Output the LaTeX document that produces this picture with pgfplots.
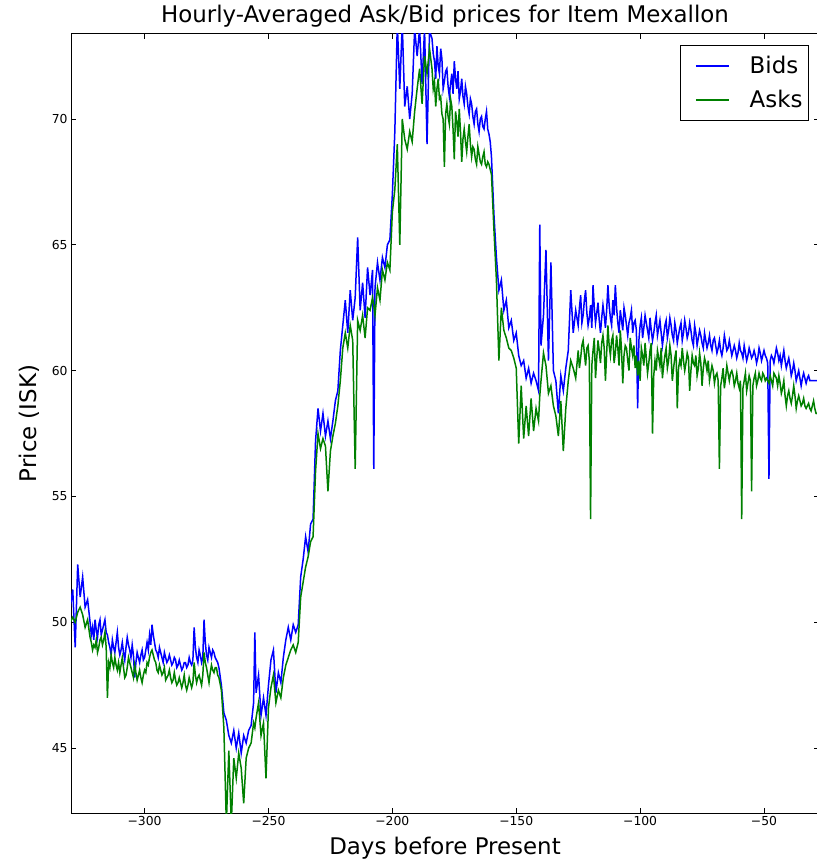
\documentclass[border=0pt]{standalone}
\usepackage{fontspec}
\setmainfont{DejaVu Sans}
\usepackage{pgfplots}
\pgfplotsset{compat=1.18}
\usepackage{pgfplotstable}
\pgfplotstableread{
x b a
-330 50.6 50.0
-329 51.3 50.2
-328 49.0 50.0
-327 52.3 50.4
-326 51.0 50.6
-325 51.8 50.3
-324 50.6 49.8
-323 50.9 50.1
-322 50.0 49.4
-321.5 49.5 49.2
-321 49.8 48.9
-320.5 49.3 49.1
-320 50.1 49.0
-319.5 49.7 49.3
-319 49.4 48.8
-318.5 49.9 49.0
-318 50.1 49.3
-317.5 49.5 49.4
-317 49.7 49.1
-316.5 49.9 49.3
-316 50.1 49.6
-315.5 49.6 49.0
-315 49.5 47.0
-314.5 49.2 48.4
-314 49.0 48.2
-313.5 48.7 48.7
-313 49.3 48.4
-312.5 49.0 48.2
-312 48.8 48.6
-311.5 49.2 48.3
-311 49.6 48.1
-310.5 49.0 48.4
-310 48.7 48.0
-309.5 48.9 48.3
-309 49.2 48.6
-308.5 48.8 48.2
-308 48.5 47.8
-307.5 49.0 47.9
-307 49.4 48.2
-306.5 49.1 48.6
-306 48.9 48.4
-305.5 48.6 48.2
-305 49.1 48.0
-304.5 48.7 47.8
-304 47.8 48.3
-303.5 48.4 48.0
-303 48.8 47.7
-302.5 48.6 47.9
-302 48.4 48.1
-301.5 48.7 47.8
-301 48.9 47.6
-300.5 48.5 47.9
-300 48.6 48.1
-299.5 48.9 48.0
-299 49.2 48.4
-298.5 48.9 48.3
-298 49.5 48.6
-297.5 49.1 48.8
-297 49.9 48.9
-296.5 49.5 48.7
-296 49.2 48.5
-295.5 48.9 48.4
-295 48.8 48.1
-294.5 48.6 48.0
-294 49.0 48.3
-293.5 48.8 48.1
-293 48.6 47.9
-292.5 48.4 48.0
-292 48.8 48.2
-291.5 48.6 47.7
-291 48.4 47.8
-290.5 48.5 47.9
-290 48.7 48.1
-289.5 48.5 47.8
-289 48.3 47.6
-288.5 48.4 47.7
-288 48.6 48.0
-287.5 48.5 47.7
-287 48.2 47.5
-286.5 48.3 47.6
-286 48.5 47.8
-285.5 48.3 47.6
-285 48.1 47.4
-284.5 48.2 47.6
-284 48.4 47.9
-283.5 48.4 47.5
-283 48.2 47.3
-282.5 48.3 47.5
-282 48.6 47.8
-281.5 48.4 47.6
-281 48.3 47.4
-280.5 48.5 47.6
-280 49.8 48.4
-279.5 49.0 47.9
-279 48.6 47.6
-278.5 48.4 47.8
-278 48.9 47.9
-277.5 48.7 47.7
-277 48.4 47.5
-276.5 48.6 47.9
-276 50.1 48.8
-275.5 49.2 48.4
-275 48.7 48.2
-274.5 48.5 47.9
-274 49.0 47.6
-273.5 48.8 48.0
-273 48.6 48.3
-272.5 48.9 48.1
-272 48.8 48.0
-271.5 48.6 48.2
-271 48.5 48.2
-270.5 48.4 47.9
-270 48.2 47.8
-269 47.5 47.3
-268 46.4 45.8
-267 46.1 42.0
-266 45.5 44.9
-265 45.2 42.0
-264 45.7 44.6
-263 45.0 43.8
-262 45.6 44.8
-261 44.8 44.2
-260 45.5 42.8
-259 45.2 44.6
-258 45.7 45.0
-257 45.9 45.2
-256 46.8 46.0
-255.5 49.6 45.8
-255 47.2 46.2
-254 47.9 46.8
-253 46.3 45.5
-252 47.0 46.0
-251 46.3 43.8
-250 47.5 46.6
-249 48.5 47.4
-248 48.9 47.9
-247 47.2 46.8
-246 48.0 47.3
-245 47.6 47.0
-244 48.6 47.8
-243 49.3 48.3
-242 49.8 48.6
-241 49.3 48.9
-240 49.9 49.1
-239 49.6 48.8
-238 49.9 49.2
-237 51.8 51.0
-236 52.5 51.6
-235 53.4 52.2
-234 52.8 52.6
-233 53.9 53.2
-232 54.1 53.4
-231 57.2 56.0
-230 58.5 57.5
-229 57.6 56.9
-228 58.3 57.3
-227 57.4 57.0
-226 58.0 55.2
-225 57.3 56.8
-224 58.0 57.4
-223 58.8 57.9
-222 59.2 58.6
-221 60.8 59.6
-220 61.8 60.9
-219 62.8 61.5
-218 61.5 60.9
-217 63.2 61.8
-216 62.0 61.2
-215 62.9 56.1
-214 65.3 62.0
-213 62.4 61.6
-212 63.5 62.2
-211 62.1 61.3
-210 64.1 62.5
-209 63.0 62.4
-208 64.0 62.9
-207.5 56.1 62.6
-207 63.3 62.2
-206 64.3 63.3
-205 63.6 62.8
-204 64.5 64.0
-203 64.1 63.6
-202 65.0 64.3
-201 65.2 64.0
-200 67.0 66.3
-199 69.5 67.2
-198 73.8 69.0
-197 71.2 65.0
-196 73.8 70.0
-195 70.5 69.2
-194 71.3 68.8
-193 70.0 69.5
-192 71.0 69.1
-191 73.6 70.3
-190 72.5 71.2
-189 73.6 72.0
-188 71.4 70.6
-187 73.6 72.5
-186 69.0 71.8
-185 73.5 72.8
-184 73.2 72.0
-183.5 72.6 71.2
-183 72.3 71.5
-182.5 71.6 70.5
-182 72.9 71.2
-181.5 72.1 71.6
-181 71.8 70.8
-180.5 72.8 70.9
-180 72.4 70.2
-179.5 71.2 70.0
-179 71.5 68.1
-178.5 71.9 70.2
-178 72.0 70.6
-177.5 71.3 70.1
-177 70.9 69.8
-176.5 71.4 70.8
-176 71.8 70.5
-175.5 71.0 69.6
-175 72.3 68.4
-174.5 71.6 70.3
-174 71.2 69.9
-173.5 71.9 69.3
-173 70.8 70.4
-172.5 71.1 69.5
-172 71.6 68.3
-171.5 70.9 69.2
-171 70.6 69.6
-170.5 71.3 69.1
-170 71.0 68.7
-169.5 70.5 69.3
-169 70.2 69.8
-168.5 70.8 69.0
-168 70.6 68.5
-167.5 70.1 68.9
-167 69.8 68.8
-166.5 70.3 68.4
-166 70.4 68.2
-165.5 69.8 68.9
-165 69.5 68.6
-164.5 70.0 68.3
-164 70.1 68.2
-163.5 69.7 68.5
-163 69.6 68.7
-162.5 70.0 68.2
-162 70.3 68.1
-161.5 69.6 68.3
-161 69.4 68.2
-160.5 69.1 68.0
-160 68.5 67.8
-159 66.2 65.6
-158 64.5 63.6
-157 63.2 60.4
-156 63.6 62.5
-155 62.4 61.6
-154 62.8 61.3
-153 61.7 60.9
-152 62.0 60.8
-151 61.2 60.5
-150 61.5 60.1
-149 60.6 57.1
-148 60.2 59.4
-147 60.4 57.3
-146 59.7 58.6
-145 60.1 57.4
-144 59.5 58.9
-143 59.9 57.6
-142 59.6 58.5
-141 59.2 58.0
-140.5 65.8 59.0
-140 61.0 59.6
-139 62.2 60.7
-138 64.8 60.2
-137 60.4 59.1
-136 64.3 59.4
-135 60.0 58.6
-134 59.6 58.2
-133 58.3 57.4
-132 59.8 58.8
-131 59.2 56.8
-130 60.1 58.5
-129 60.8 59.6
-128 63.2 60.4
-127 61.5 60.1
-126 62.4 59.7
-125 61.8 60.8
-124.5 62.5 60.1
-124 63.0 60.5
-123.5 61.9 61.0
-123 62.2 61.2
-122.5 62.8 60.7
-122 63.2 60.2
-121.5 62.3 60.9
-121 61.8 61.0
-120.5 62.1 60.4
-120 62.6 54.1
-119.5 61.7 60.2
-119 63.4 60.8
-118.5 62.5 61.3
-118 61.9 59.7
-117.5 62.3 60.5
-117 62.7 61.2
-116.5 62.0 60.8
-116 61.5 60.3
-115.5 62.1 61.1
-115 62.6 61.4
-114.5 62.2 60.9
-114 61.7 59.6
-113.5 62.4 60.7
-113 63.4 61.8
-112.5 62.6 61.0
-112 62.1 60.6
-111.5 61.8 61.2
-111 62.8 61.4
-110.5 62.2 60.3
-110 63.4 60.7
-109.5 62.5 61.4
-109 61.9 60.9
-108.5 61.5 60.2
-108 62.4 61.6
-107.5 62.0 60.8
-107 61.6 59.5
-106.5 62.5 60.6
-106 62.2 61.0
-105.5 61.8 60.9
-105 61.4 60.4
-104.5 61.9 60.0
-104 62.1 61.3
-103.5 62.4 60.9
-103 61.5 60.6
-102.5 61.9 61.0
-102 62.0 60.1
-101.5 61.6 60.6
-101 58.5 59.8
-100.5 61.2 60.4
-100 61.8 59.6
-99.5 62.1 60.9
-99 61.3 60.6
-98.5 61.7 60.2
-98 62.2 61.1
-97.5 61.9 60.5
-97 61.6 59.9
-96.5 61.3 60.3
-96 62.1 60.8
-95.5 61.6 61.1
-95 61.2 57.5
-94.5 61.5 59.8
-94 61.9 60.4
-93.5 62.2 60.0
-93 61.4 60.8
-92.5 61.7 60.5
-92 62.0 60.2
-91.5 61.5 60.9
-91 61.0 59.7
-90.5 61.4 60.2
-90 61.8 60.6
-89.5 62.0 60.9
-89 61.3 60.1
-88.5 61.6 60.4
-88 62.1 61.0
-87.5 61.8 60.6
-87 61.4 59.6
-86.5 61.2 60.1
-86 61.9 60.5
-85.5 61.6 60.8
-85 61.1 58.5
-84.5 61.4 60.1
-84 61.7 60.4
-83.5 61.9 60.2
-83 61.2 60.9
-82.5 61.5 60.4
-82 62.0 60.0
-81.5 61.7 60.3
-81 61.3 60.7
-80.5 61.5 60.5
-80 61.9 59.2
-79.5 61.6 60.0
-79 61.2 60.6
-78.5 61.0 60.3
-78 61.8 60.2
-77.5 61.5 60.6
-77 61.0 59.8
-76.5 61.3 60.1
-76 61.6 60.7
-75.5 61.4 60.3
-75 61.1 59.4
-74.5 60.9 60.1
-74 61.5 60.5
-73.5 61.2 60.3
-73 60.9 60.0
-72.5 61.1 60.4
-72 61.4 59.6
-71.5 61.0 59.9
-71 60.8 60.2
-70.5 61.2 60.0
-70 61.3 59.5
-69.5 61.0 59.8
-69 60.7 59.9
-68.5 60.9 59.6
-68 61.2 56.1
-67.5 60.8 59.4
-67 60.6 59.7
-66.5 60.9 60.1
-66 61.4 59.3
-65.5 61.1 59.7
-65 60.8 60.2
-64.5 60.9 59.9
-64 61.2 59.6
-63.5 60.9 59.9
-63 60.6 60.0
-62.5 60.8 59.8
-62 61.0 59.4
-61.5 60.8 59.6
-61 60.5 59.9
-60.5 60.7 59.5
-60 61.1 59.3
-59.5 60.8 59.6
-59 60.7 54.1
-58.5 60.5 59.3
-58 61.0 59.6
-57.5 60.7 59.9
-57 60.4 59.2
-56.5 60.6 59.5
-56 60.9 59.8
-55.5 60.7 59.6
-55 60.5 55.2
-54.5 60.6 59.4
-54 60.8 59.7
-53.5 60.6 59.9
-53 60.3 59.4
-52.5 60.5 59.6
-52 60.9 59.9
-51.5 60.7 59.7
-51 60.4 59.6
-50.5 60.6 59.9
-50 60.8 59.8
-49.5 60.6 59.6
-49 60.5 59.7
-48.5 60.3 59.6
-48 55.7 59.5
-47.5 60.4 59.8
-47 60.6 59.6
-46.5 60.5 59.4
-46 60.3 59.9
-45.5 60.6 59.8
-45 60.9 59.7
-44.5 60.7 59.4
-44 60.4 59.8
-43.5 60.6 59.5
-43 60.2 59.1
-42.5 60.5 59.3
-42 60.8 59.6
-41.5 60.4 59.0
-41 60.1 58.6
-40.5 60.3 59.0
-40 60.5 59.2
-39.5 60.2 58.9
-39 59.8 58.7
-38.5 60.0 59.0
-38 60.3 59.4
-37.5 60.0 59.0
-37 59.6 58.5
-36.5 59.8 58.8
-36 60.0 59.0
-35.5 59.7 58.8
-35 59.4 58.6
-34.5 59.7 58.7
-34 59.9 58.9
-33.5 59.7 58.6
-33 59.5 58.5
-32.5 59.7 58.6
-32 59.8 58.7
-31.5 59.6 58.5
-31 59.6 58.4
-30.5 59.6 58.6
-30 59.6 58.8
-29.5 59.6 58.5
-29 59.6 58.3
-28.5 59.6 58.3
-28 59.6 58.2
}\pricedata
\definecolor{mplgreen}{rgb}{0,0.5,0}
\begin{document}
\begin{tikzpicture}
\begin{axis}[
  at={(71bp,47bp)}, anchor=south west,
  scale only axis, width=748bp, height=779bp,
  xmin=-329.7, xmax=-27.8, ymin=42.42, ymax=73.38,
  xtick={-300,-250,-200,-150,-100,-50},
  xticklabels={−300,−250,−200,−150,−100,−50},
  ytick={45,50,55,60,65,70},
  yticklabels={45,50,55,60,65,70},
  tick label style={font=\fontsize{12.4}{14}\selectfont},
  major tick length=5bp,
  tick style={black, line width=0.8bp},
  axis line style={black, line width=1bp},
  title={Hourly-Averaged Ask/Bid prices for Item Mexallon},
  title style={font=\fontsize{23}{28}\selectfont, at={(axis description cs:0.5,1.0077)}, anchor=base, inner sep=0pt},
  xlabel={Days before Present},
  xlabel style={font=\fontsize{23}{28}\selectfont, at={(axis description cs:0.5,-0.0539)}, anchor=base, inner sep=0pt},
  ylabel={Price (ISK)},
  ylabel style={font=\fontsize{23}{28}\selectfont, at={(axis description cs:-0.04545,0.5)}, anchor=base, inner sep=0pt},
  legend image code/.code={\path (0bp,0bp); \draw[#1, line width=1.5bp] (11bp,0bp) -- (44bp,0bp);},
  legend cell align=left,
  legend style={at={(axis description cs:1,1)}, anchor=north east, xshift=-10bp, yshift=-11bp,
    draw=black, line width=1bp, font=\fontsize{23}{28}\selectfont,
    inner xsep=4bp, inner ysep=9bp, row sep=11bp, column sep=18bp},
]
\addplot[blue, line width=1.5bp] table[x=x, y=b] {\pricedata};
\addlegendentry{Bids}
\addplot[mplgreen, line width=1.5bp] table[x=x, y=a] {\pricedata};
\addlegendentry{Asks}
\end{axis}
\pgfresetboundingbox
\useasboundingbox (0,0) rectangle (817bp,860bp);
\end{tikzpicture}
\end{document}
